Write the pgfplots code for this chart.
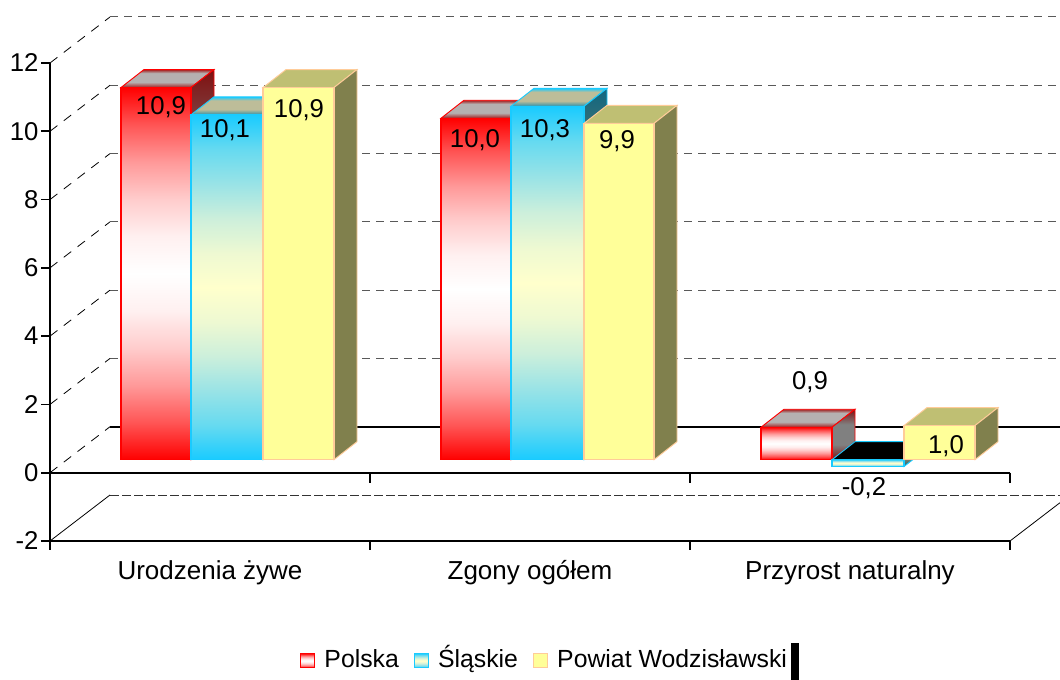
\documentclass[border=0pt]{standalone}
\usepackage{fontspec}
\setmainfont{Liberation Sans}
\usepackage{pgfplots}
\pgfplotsset{compat=1.18}
\newcommand{\lab}{\fontsize{19.3}{22}\selectfont}
\newcommand{\cat}{\fontsize{19.5}{22}\selectfont}
\newcommand{\leg}{\fontsize{18.6}{22}\selectfont}

% 1 px of the reference = 0.75pt; x is given in reference px, y in chart units
\definecolor{cy}{HTML}{19CBFF}
\definecolor{pale}{HTML}{FFFFCC}
\definecolor{yel}{HTML}{FFFF99}
\definecolor{peach}{HTML}{FFCC99}
\definecolor{r1}{HTML}{FF5555}
\definecolor{r2}{HTML}{FF9999}
\definecolor{r3}{HTML}{FFCCCC}
\definecolor{r4}{HTML}{FFF0F0}
\definecolor{c1}{HTML}{66DAF0}
\definecolor{c2}{HTML}{99E3E6}
\definecolor{c3}{HTML}{CCEFDB}
\definecolor{c4}{HTML}{EEF9D2}
\pgfdeclareverticalshading{redfront}{100bp}{color(0bp)=(red); color(25bp)=(red); color(30bp)=(r1); color(35bp)=(r2); color(40bp)=(r3); color(45bp)=(r4); color(50bp)=(white); color(55bp)=(r4); color(60bp)=(r3); color(65bp)=(r2); color(70bp)=(r1); color(75bp)=(red); color(100bp)=(red)}
\pgfdeclareverticalshading{cyfront}{100bp}{color(0bp)=(cy); color(25bp)=(cy); color(30bp)=(c1); color(35bp)=(c2); color(40bp)=(c3); color(45bp)=(c4); color(50bp)=(pale); color(55bp)=(c4); color(60bp)=(c3); color(65bp)=(c2); color(70bp)=(c1); color(75bp)=(cy); color(100bp)=(cy)}
\definecolor{rs1}{HTML}{7F1010}
\definecolor{rs2}{HTML}{808080}
\definecolor{cs1}{HTML}{0F6680}
\definecolor{cs2}{HTML}{808066}
\pgfdeclareverticalshading{redside}{100bp}{color(0bp)=(rs1); color(25bp)=(rs1); color(40bp)=(rs2); color(60bp)=(rs2); color(75bp)=(rs1); color(100bp)=(rs1)}
\pgfdeclareverticalshading{cyside}{100bp}{color(0bp)=(cs1); color(25bp)=(cs1); color(40bp)=(cs2); color(60bp)=(cs2); color(75bp)=(cs1); color(100bp)=(cs1)}
\definecolor{rt1}{HTML}{A02020}
\definecolor{rt2}{HTML}{B5B0B0}
\definecolor{ct1}{HTML}{2B8FA8}
\definecolor{ct2}{HTML}{BDBD99}
\pgfdeclareverticalshading{redtop}{100bp}{color(0bp)=(rt1); color(25bp)=(rt1); color(40bp)=(rt2); color(65bp)=(rt2); color(75bp)=(rt1); color(100bp)=(rt1)}
\pgfdeclareverticalshading{cytop}{100bp}{color(0bp)=(ct1); color(25bp)=(ct1); color(40bp)=(ct2); color(65bp)=(ct2); color(75bp)=(cy); color(100bp)=(cy)}

\tikzset{
  rF/.style={shade,shading=redfront,draw=red,line width=0.9pt},
  rS/.style={shade,shading=redside,draw=red,line width=0.7pt},
  rT/.style={shade,shading=redtop,draw=red,line width=0.7pt},
  cF/.style={shade,shading=cyfront,draw=cy,line width=0.9pt},
  cS/.style={shade,shading=cyside,draw=cy,line width=0.7pt},
  cT/.style={shade,shading=cytop,draw=cy,line width=0.7pt},
  cN/.style={fill=black,draw=cy,line width=0.7pt},
  yF/.style={fill=yel,draw=peach,line width=0.9pt},
  yS/.style={fill={rgb,255:red,128;green,128;blue,77},draw=peach,line width=0.7pt},
  yT/.style={fill={rgb,255:red,191;green,191;blue,115},draw=peach,line width=0.7pt},
  wall/.style={draw=black!65,line width=0.75pt,dash pattern=on 6pt off 4.5pt},
  diag/.style={draw=black,line width=0.6pt,dash pattern=on 7pt off 6pt},
  val/.style={font=\lab,anchor=base,inner sep=0pt},
}

% left, right, value, front, side, top  (bars stand 0.381 above the axis zero, depth 23px / 0.527)
\newcommand{\barbox}[6]{%
  \pgfmathsetmacro\yt{max(#3,0)+0.381}%
  \pgfmathsetmacro\yb{min(#3,0)+0.381}%
  \pgfmathsetmacro\ytt{\yt+0.527}%
  \pgfmathsetmacro\ybb{\yb+0.527}%
  \pgfmathsetmacro\xa{#1+23}%
  \pgfmathsetmacro\xb{#2+23}%
  \edef\tmp{\noexpand\addplot[#6] coordinates {(#1,\yt)(#2,\yt)(\xb,\ytt)(\xa,\ytt)} -- cycle;
    \noexpand\addplot[#5] coordinates {(#2,\yb)(\xb,\ybb)(\xb,\ytt)(#2,\yt)} -- cycle;
    \noexpand\addplot[#4] coordinates {(#1,\yb)(#2,\yb)(#2,\yt)(#1,\yt)} -- cycle;}%
  \tmp}

\begin{document}
\begin{tikzpicture}
\begin{axis}[
    at={(37.5pt,104.25pt)}, anchor=south west,
    scale only axis, width=720pt, height=358.5pt,
    xmin=50, xmax=1010, ymin=-2, ymax=12,
    clip=false,
    axis x line=bottom, axis y line=left,
    axis line style={-,line width=1.3pt},
    xtick={50,370,690,1010}, xticklabels={},
    extra x ticks={210,530,850},
    extra x tick labels={Urodzenia żywe,Zgony ogółem,Przyrost naturalny},
    extra x tick style={major tick length=0pt,tick label style={yshift=-14.7pt,font=\cat,text height=14pt,text depth=4pt}},
    ytick={-2,0,2,4,6,8,10,12},
    yticklabels={-2,0,2,4,6,8,10,12},
    tick align=outside, major tick length=6.5pt,
    tick style={line width=1.3pt,black},
    tick label style={font=\lab},
    yticklabel style={inner sep=0pt,xshift=-2pt},
    xticklabel style={inner sep=0pt},
    legend columns=3,
    legend cell align=left,
    legend entries={Polska,Śląskie,Powiat Wodzisławski},
    legend style={draw=none,fill=none,font=\leg,at={(0.2604,-0.2505)},anchor=west,inner sep=0pt,
      nodes={inner sep=0pt,text height=14pt,text depth=4pt},
      /tikz/every odd column/.append style={column sep=6.75pt},
      /tikz/every even column/.append style={column sep=11.25pt}},
    legend image code/.code={\path[#1] (0pt,-5.4pt) rectangle (10.6pt,5.4pt);},
]
% legend images come first so the entries above belong to them
\addlegendimage{rF,line width=0.8pt}
\addlegendimage{cF,line width=0.8pt}
\addlegendimage{yF,line width=0.8pt}
% back wall
\addplot[wall] coordinates {(110,13.347)(1060,13.347)};
\addplot[wall] coordinates {(110,11.347)(1060,11.347)};
\addplot[wall] coordinates {(110,9.347)(1060,9.347)};
\addplot[wall] coordinates {(110,7.347)(1060,7.347)};
\addplot[wall] coordinates {(110,5.347)(1060,5.347)};
\addplot[wall] coordinates {(110,3.347)(1060,3.347)};
\addplot[black,line width=1.3pt] coordinates {(110,1.347)(1060,1.347)};
\addplot[black!80,line width=0.7pt,dash pattern=on 7pt off 2pt] coordinates {(110,-0.653)(1060,-0.653)};
% side wall
\addplot[diag] coordinates {(50,12)(110,13.347)};
\addplot[diag] coordinates {(50,10)(110,11.347)};
\addplot[diag] coordinates {(50,8)(110,9.347)};
\addplot[diag] coordinates {(50,6)(110,7.347)};
\addplot[diag] coordinates {(50,4)(110,5.347)};
\addplot[diag] coordinates {(50,2)(110,3.347)};
\addplot[diag] coordinates {(50,0)(110,1.347)};
\addplot[black,line width=0.6pt] coordinates {(50,-2)(110,-0.653)};
\addplot[black,line width=0.6pt] coordinates {(1010,-2)(1060,-0.878)};
% zero line with its ticks
\addplot[black,line width=1.5pt] coordinates {(50,0)(1010,0)};
\addplot[black,line width=1.3pt] coordinates {(50,0)(50,-0.29)};
\addplot[black,line width=1.3pt] coordinates {(370,0)(370,-0.29)};
\addplot[black,line width=1.3pt] coordinates {(690,0)(690,-0.29)};
\addplot[black,line width=1.3pt] coordinates {(1010,0)(1010,-0.29)};
% bars
\barbox{121}{191}{10.9}{rF}{rS}{rT}
\barbox{191}{263}{10.1}{cF}{cS}{cT}
\barbox{263}{334}{10.9}{yF}{yS}{yT}
\barbox{441}{511}{10.0}{rF}{rS}{rT}
\barbox{511}{584}{10.35}{cF}{cS}{cT}
\barbox{584}{654}{9.85}{yF}{yS}{yT}
\barbox{761}{832}{0.95}{rF}{rS}{rT}
\barbox{832}{904}{-0.2}{cF}{cS}{cN}
\barbox{904}{975}{1.0}{yF}{yS}{yT}
% black mark after the legend
\addplot[fill=black,draw=none] coordinates {(791,-4.98)(799,-4.98)(799,-6.07)(791,-6.07)} -- cycle;
% value labels
\node[val] at (axis cs:161,10.48) {10,9};
\node[val] at (axis cs:225,9.83) {10,1};
\node[val] at (axis cs:299,10.41) {10,9};
\node[val] at (axis cs:475,9.52) {10,0};
\node[val] at (axis cs:545,9.83) {10,3};
\node[val] at (axis cs:617,9.49) {9,9};
\node[val] at (axis cs:810,2.43) {0,9};
\node[val] at (axis cs:946,0.55) {1,0};
\node[val,fill=white,inner sep=2pt,anchor=center] at (axis cs:864,-0.44) {-0,2};
\end{axis}
\pgfresetboundingbox
\path[use as bounding box] (0,0) rectangle (795pt,510pt);
\end{tikzpicture}
\end{document}
